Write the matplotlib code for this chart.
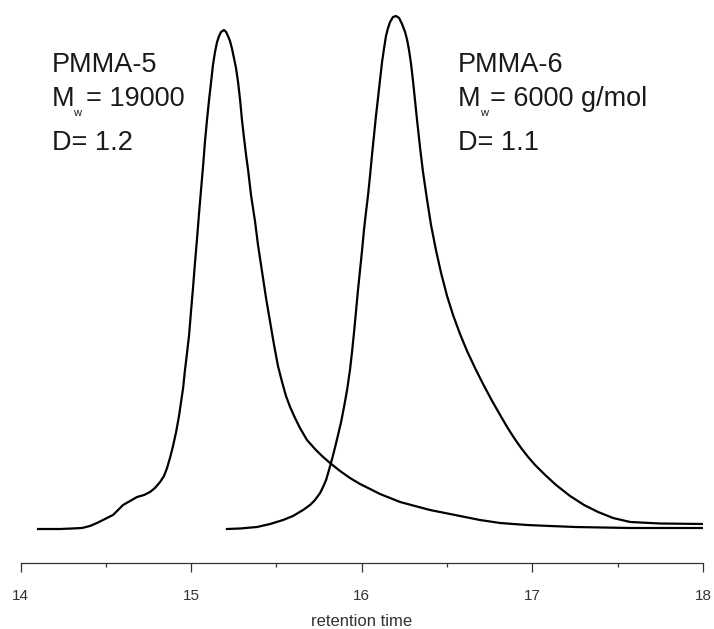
import matplotlib
matplotlib.use("Agg")
import matplotlib.pyplot as plt
from matplotlib.ticker import MultipleLocator

# ---- data (retention time, detector signal a.u.) ----
t_pmma5 = [14.103, 14.173, 14.232, 14.302, 14.360, 14.407, 14.448, 14.495, 14.542, 14.572,
           14.601, 14.642, 14.683, 14.724, 14.759, 14.788, 14.818, 14.841, 14.859, 14.876,
           14.894, 14.912, 14.929, 14.941, 14.953, 14.964, 14.976, 14.988, 14.999, 15.011,
           15.023, 15.035, 15.046, 15.058, 15.070, 15.081, 15.093, 15.105, 15.117, 15.128,
           15.140, 15.152, 15.164, 15.175, 15.193, 15.205, 15.216, 15.228, 15.240, 15.251,
           15.263, 15.275, 15.287, 15.298, 15.310, 15.322, 15.334, 15.351, 15.375, 15.392,
           15.416, 15.439, 15.463, 15.486, 15.509, 15.533, 15.556, 15.580, 15.609, 15.638,
           15.679, 15.726, 15.767, 15.814, 15.873, 15.931, 15.990, 16.049, 16.107, 16.166,
           16.225, 16.312, 16.400, 16.488, 16.576, 16.693, 16.811, 16.969, 17.104, 17.250,
           17.573, 18.000]
s_pmma5 = [34, 34, 34, 34.5, 35, 37, 40, 44, 48, 53,
           58, 62, 66, 68, 71, 75, 81, 87, 95, 105,
           117, 131, 147, 161, 175, 193, 210, 228, 251, 275,
           301, 325, 349, 373, 397, 421, 443, 463, 481, 498,
           511, 521, 527, 531, 533, 531, 527, 522, 514, 505,
           495, 481, 463, 443, 425, 408, 393, 368, 341, 318,
           291, 265, 241, 218, 197, 181, 167, 156, 145, 135,
           123, 114, 107, 100, 92, 85, 79, 74, 69, 65,
           61, 57, 53, 50, 47, 43, 40, 38, 37, 36,
           35, 35]

t_pmma6 = [15.210, 15.287, 15.386, 15.463, 15.539, 15.597, 15.656, 15.697, 15.726, 15.756,
           15.773, 15.791, 15.808, 15.826, 15.844, 15.861, 15.879, 15.896, 15.914, 15.931,
           15.943, 15.955, 15.967, 15.978, 15.990, 16.002, 16.013, 16.025, 16.037, 16.049,
           16.060, 16.072, 16.084, 16.096, 16.107, 16.119, 16.131, 16.142, 16.154, 16.166,
           16.183, 16.201, 16.219, 16.236, 16.254, 16.266, 16.277, 16.289, 16.301, 16.312,
           16.324, 16.342, 16.359, 16.383, 16.406, 16.436, 16.465, 16.500, 16.535, 16.576,
           16.617, 16.664, 16.711, 16.764, 16.811, 16.852, 16.893, 16.934, 16.975, 17.016,
           17.075, 17.139, 17.221, 17.303, 17.385, 17.473, 17.573, 17.749, 18.000]
s_pmma6 = [34, 34.5, 36, 39, 43, 47, 53, 58, 63, 70,
           76, 83, 93, 104, 116, 128, 141, 156, 173, 193,
           211, 231, 253, 273, 293, 313, 333, 351, 368, 388,
           408, 428, 448, 466, 483, 501, 515, 527, 535, 541,
           546, 547, 545, 539, 531, 523, 513, 499, 481, 463,
           443, 415, 391, 363, 338, 312, 290, 267, 248, 229,
           212, 195, 179, 162, 148, 136, 125, 115, 106, 98,
           88, 78, 67, 58, 51, 45, 41, 39.5, 39]

x_ticks = [14, 15, 16, 17, 18]
x_label = "retention time"

W, H = 714, 629
plt.rcParams['font.family'] = ['Liberation Sans', 'DejaVu Sans']
fig = plt.figure(figsize=(W / 100, H / 100), dpi=100)

def fx(px):
    return px / W

def fy(py):
    return 1 - py / H

ax_left, ax_right, ax_bottom, ax_top = 20.5, 703, 563, 0
ax = fig.add_axes([fx(ax_left), fy(ax_bottom), (ax_right - ax_left) / W, (ax_bottom - ax_top) / H])

ax.plot(t_pmma5, s_pmma5, color='black', lw=1.6, solid_joinstyle='round')
ax.plot(t_pmma6, s_pmma6, color='black', lw=1.6, solid_joinstyle='round')

ax.set_xlim(14, 18)
ax.set_ylim(0, 563)
for sp in ['top', 'left', 'right']:
    ax.spines[sp].set_visible(False)
ax.spines['bottom'].set_linewidth(0.9)
ax.spines['bottom'].set_color('#333333')
ax.set_yticks([])
ax.set_xticks(x_ticks)
ax.xaxis.set_minor_locator(MultipleLocator(0.5))
ax.tick_params(axis='x', which='major', direction='out', length=6.5, width=0.9,
               color='#333333', pad=12, labelsize=11, labelcolor='#333333')
ax.tick_params(axis='x', which='minor', direction='out', length=3, width=0.9, color='#333333')
ax.set_xlabel(x_label, fontsize=12, color='#333333', labelpad=8)

txt_kw = dict(fontsize=19.5, color='#1a1a1a', va='baseline', ha='left')
sub_kw = dict(fontsize=8, color='#1a1a1a', va='baseline', ha='left')

# PMMA-5 annotation
fig.text(fx(52), fy(72), "PMMA-5", **txt_kw)
fig.text(fx(52), fy(106), "M", **txt_kw)
fig.text(fx(73), fy(116), "w", **sub_kw)
fig.text(fx(86), fy(106), "= 19000", **txt_kw)
fig.text(fx(52), fy(150), "D= 1.2", **txt_kw)

# PMMA-6 annotation
fig.text(fx(458), fy(72), "PMMA-6", **txt_kw)
fig.text(fx(458), fy(106), "M", **txt_kw)
fig.text(fx(480), fy(116), "w", **sub_kw)
fig.text(fx(490), fy(106), "= 6000 g/mol", **txt_kw)
fig.text(fx(458), fy(150), "D= 1.1", **txt_kw)

fig.savefig("out.png", dpi=100, facecolor='white')
